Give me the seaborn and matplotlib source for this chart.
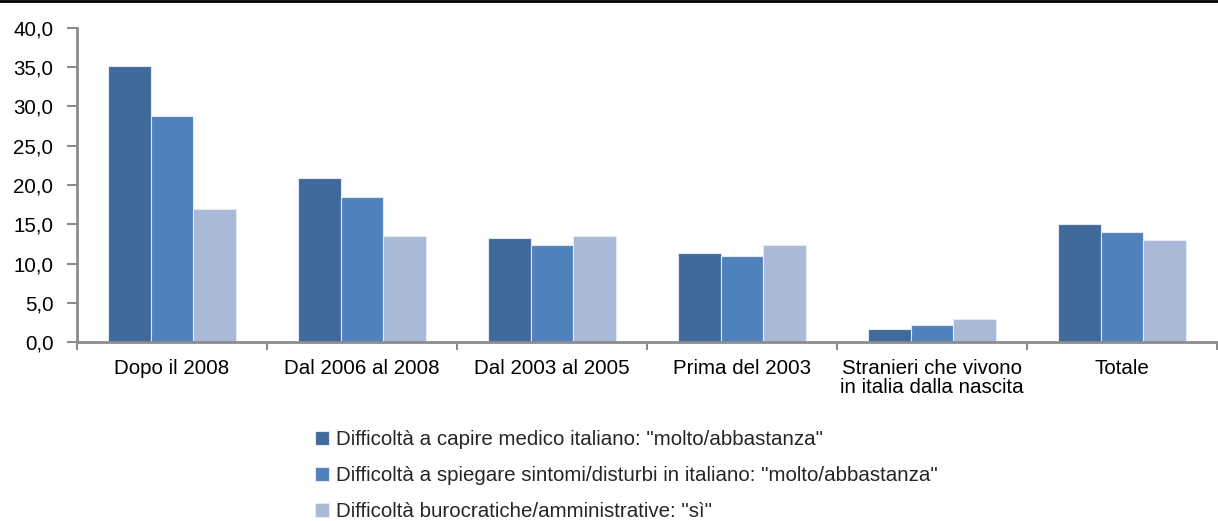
import numpy as np
import pandas as pd
import matplotlib
matplotlib.use("Agg")
import matplotlib.pyplot as plt
import seaborn as sns
from matplotlib.ticker import FuncFormatter, FixedLocator
from matplotlib.lines import Line2D

categories = ["Dopo il 2008", "Dal 2006 al 2008", "Dal 2003 al 2005", "Prima del 2003",
              "Stranieri che vivono\nin italia dalla nascita", "Totale"]
series_names = ['Difficoltà a capire medico italiano: "molto/abbastanza"',
                'Difficoltà a spiegare sintomi/disturbi in italiano: "molto/abbastanza"',
                'Difficoltà burocratiche/amministrative: "sì"']
capire = [35.2, 20.9, 13.3, 11.4, 1.7, 15.0]
spiegare = [28.8, 18.5, 12.3, 10.9, 2.2, 14.0]
burocratiche = [17.0, 13.5, 13.5, 12.3, 2.9, 13.0]
yticks = [0, 5, 10, 15, 20, 25, 30, 35, 40]

colors = ["#406A9B", "#4F81BD", "#AAB9D7"]

rows = []
for name, vals in zip(series_names, [capire, spiegare, burocratiche]):
    for c, v in zip(categories, vals):
        rows.append({"cat": c, "serie": name, "val": v})
df = pd.DataFrame(rows)

sns.set_theme(style="white")
plt.rcParams["font.family"] = ["Liberation Sans", "DejaVu Sans"]

fs = 14.8
fig = plt.figure(figsize=(12.18, 5.21), dpi=100)
ax = fig.add_axes([77/1218, (521-342)/521, (1217-77)/1218, (342-28)/521])

sns.barplot(data=df, x="cat", y="val", hue="serie", order=categories,
            hue_order=series_names, palette=colors, saturation=1, width=0.67,
            edgecolor="#E4E9F2", linewidth=0.8, ax=ax, legend=True)

ax.set_ylim(0, 40)
ax.set_xlim(-0.5, 5.5)
ax.yaxis.set_major_locator(FixedLocator(yticks))
ax.yaxis.set_major_formatter(FuncFormatter(lambda v, p: f"{v:.1f}".replace(".", ",")))
ax.set_xlabel("")
ax.set_ylabel("")

for s in ["top", "right"]:
    ax.spines[s].set_visible(False)
for s in ["left", "bottom"]:
    ax.spines[s].set_color("#8C8C8C")
    ax.spines[s].set_linewidth(2)

ax.tick_params(axis="y", which="major", left=True, length=7, width=1.5, color="#8C8C8C",
               labelsize=fs, labelcolor="black", pad=10)
ax.tick_params(axis="x", which="major", bottom=False, length=0, labelsize=fs,
               labelcolor="black", pad=12)
for lab in ax.get_xticklabels():
    lab.set_linespacing(1.05)
ax.set_xticks(np.arange(-0.5, 6.0, 1.0), minor=True)
ax.tick_params(axis="x", which="minor", bottom=True, length=6, width=1.5, color="#8C8C8C")

handles, labels = ax.get_legend_handles_labels()
ax.get_legend().remove()
fig.legend(handles, labels, loc="upper left", bbox_to_anchor=(307/1218, (521-422)/521),
           frameon=False, fontsize=fs, handlelength=0.65, handleheight=0.65,
           handletextpad=0.35, labelspacing=0.82, borderaxespad=0)

fig.add_artist(Line2D([0, 1], [0.998, 0.998], transform=fig.transFigure, color="black", linewidth=2))

fig.savefig("out.png", dpi=100)
